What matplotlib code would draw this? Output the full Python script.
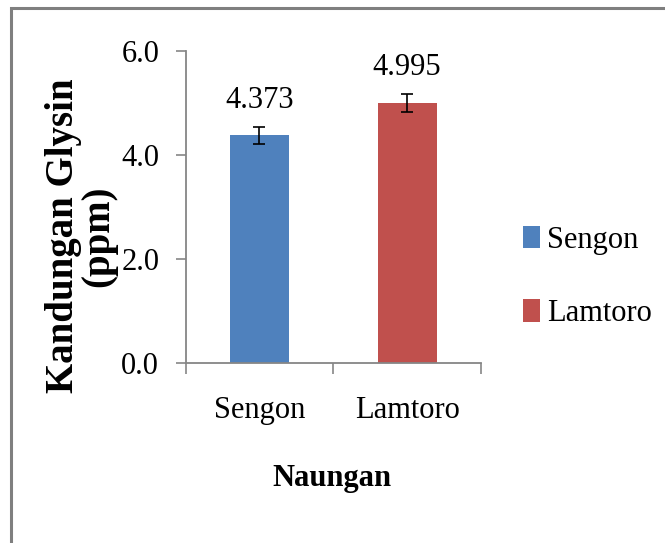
import matplotlib
matplotlib.use('Agg')
import matplotlib.pyplot as plt
from matplotlib.patches import Rectangle

# values
naungan = ['Sengon', 'Lamtoro']
glysin = [4.373, 4.995]
galat = [0.17, 0.17]
warna = ['#4F81BD', '#C0504D']
yticks = [0.0, 2.0, 4.0, 6.0]

plt.rcParams['font.family'] = ['Liberation Serif', 'DejaVu Serif']

W, H = 665, 543
fig = plt.figure(figsize=(W / 100, H / 100), dpi=100)

# chart border (only left and top visible in the crop)
fig.add_artist(Rectangle((10.5 / W, -0.1), 1.2, 1 - 7.5 / H + 0.1,
                         transform=fig.transFigure, fill=False,
                         edgecolor='#7f7f7f', linewidth=2.2))

ax = fig.add_axes([185.6 / W, 1 - 363 / H, (481 - 185.6) / W, (363 - 50.7) / H])

x = list(range(len(naungan)))
ax.bar(x, glysin, width=0.4, color=warna, label=naungan, zorder=2)
ax.errorbar(x, glysin, yerr=galat, fmt='none', ecolor='black',
            elinewidth=1.2, capsize=4.5, capthick=1.2, zorder=3)

for xi, v in zip(x, glysin):
    ax.annotate(f'{v:.3f}', (xi, v), xytext=(0, 20), textcoords='offset points',
                ha='center', va='baseline', fontsize=22)

ax.set_xlim(-0.5, 1.5)
ax.set_ylim(0, 6)
ax.set_yticks(yticks)
ax.set_yticklabels([f'{t:.1f}' for t in yticks], fontsize=22)
ax.set_xticks([-0.5, 0.5, 1.5])
ax.set_xticklabels([])
ax.set_xticks(x, minor=True)
ax.set_xticklabels(naungan, minor=True, fontsize=22)

ax.tick_params(axis='x', which='major', length=8, width=1.2, color='#868686', direction='out')
ax.tick_params(axis='x', which='minor', length=0, pad=24)
ax.tick_params(axis='y', length=7, width=1.2, color='#868686', direction='out', pad=12)

for s in ['top', 'right']:
    ax.spines[s].set_visible(False)
for s in ['left', 'bottom']:
    ax.spines[s].set_color('#868686')
    ax.spines[s].set_linewidth(1.3)

fig.text(81 / W, 1 - 236 / H, 'Kandungan Glysin\n(ppm)', rotation=90,
         ha='center', va='center', multialignment='center',
         fontsize=28, fontweight='bold', linespacing=0.95)
fig.text(332 / W, 1 - 486 / H, 'Naungan', ha='center', va='baseline',
         fontsize=22, fontweight='bold')

fig.legend(loc='center left', bbox_to_anchor=(523 / W, 1 - 277 / H),
           frameon=False, fontsize=22, handlelength=0.55, handleheight=0.75,
           handletextpad=0.25, labelspacing=1.45, borderpad=0, borderaxespad=0)

fig.savefig('out.png', dpi=100)
